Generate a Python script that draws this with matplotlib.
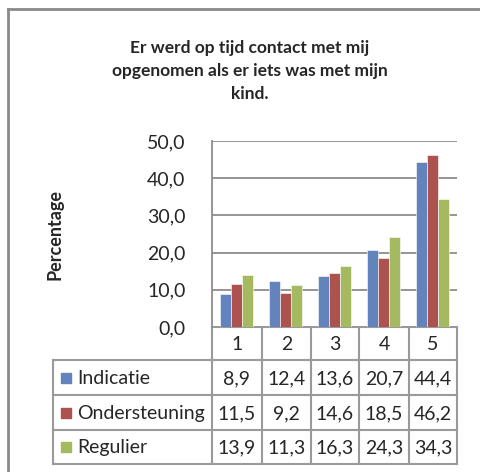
import matplotlib
matplotlib.use("Agg")
import matplotlib.pyplot as plt
import numpy as np

plt.rcParams['font.family'] = ['Lato', 'DejaVu Sans']

title = "Er werd op tijd contact met mij\nopgenomen als er iets was met mijn\nkind."
ylabel = "Percentage"
categories = ["1", "2", "3", "4", "5"]
series_names = ["Indicatie", "Ondersteuning", "Regulier"]
indicatie = [8.9, 12.4, 13.6, 20.7, 44.4]
ondersteuning = [11.5, 9.2, 14.6, 18.5, 46.2]
regulier = [13.9, 11.3, 16.3, 24.3, 34.3]
yticks = [0, 10, 20, 30, 40, 50]
colors = ["#6383BD", "#AC5350", "#A5BA60"]

W, H = 481, 472
fig = plt.figure(figsize=(W / 100, H / 100), dpi=100)

def px_rect(l, t, r, b):
    return [l / W, 1 - b / H, (r - l) / W, (b - t) / H]

# overlay in pixel coords
ov = fig.add_axes([0, 0, 1, 1])
ov.set_autoscale_on(False)
ov.set_xlim(0, W)
ov.set_ylim(H, 0)
ov.axis('off')

grid_c = "#8C8C8C"
txt_c = "#262626"
# outer border
ov.plot([8, 8], [9, H + 5], color="#8A8A8A", lw=2)
ov.plot([8, W + 5], [9, 9], color="#8A8A8A", lw=2)

# title
ov.text(250, 71, title, ha='center', va='center', fontsize=12.5,
        fontweight='bold', color=txt_c, linespacing=1.55)

# plot axes
pl, pt, pr, pb = 212, 141, 457, 327
ax = fig.add_axes(px_rect(pl, pt, pr, pb))
data = [indicatie, ondersteuning, regulier]
x = np.arange(len(categories))
w = 1 / 4.5
for i, (vals, c) in enumerate(zip(data, colors)):
    ax.bar(x + (i - 1) * w, vals, width=w, color=c, edgecolor='white',
           linewidth=0.4, zorder=3)
ax.set_xlim(-0.5, len(categories) - 0.5)
ax.set_ylim(0, 50)
ax.set_yticks(yticks)
ax.set_yticklabels([f"{v:.1f}".replace('.', ',') for v in yticks],
                   fontsize=14, color=txt_c)
ax.tick_params(axis='y', length=0, pad=19)
ax.set_xticks([])
ax.grid(axis='y', color=grid_c, lw=1.3, zorder=0)
for s in ['top', 'right', 'bottom']:
    ax.spines[s].set_visible(False)
ax.spines['left'].set_color(grid_c)
ax.spines['left'].set_linewidth(1.3)
ax.set_ylabel(ylabel, fontsize=13, fontweight='bold', color=txt_c,
              labelpad=0, va='center')
ax.yaxis.set_label_coords((55 - pl) / (pr - pl), 0.5)

# data table
col_edges = [212, 262, 311, 359, 409, 457]
row_edges = [327, 360, 395, 430, 464]
tl = 53
tc = "#9A9A9A"
lw = 1.5
ov.plot([pl, pr], [327, 327], color=tc, lw=lw)
for xe in col_edges:
    ov.plot([xe, xe], [327, row_edges[-1]], color=tc, lw=lw)
for ye in row_edges[1:]:
    ov.plot([tl, pr], [ye, ye], color=tc, lw=lw)
ov.plot([tl, tl], [row_edges[1], row_edges[-1]], color=tc, lw=lw)

for j, cat in enumerate(categories):
    cx = (col_edges[j] + col_edges[j + 1]) / 2
    ov.text(cx, (row_edges[0] + row_edges[1]) / 2 + 1, cat, ha='center',
            va='center', fontsize=14, color=txt_c)
for i, (name, vals, c) in enumerate(zip(series_names, data, colors)):
    cy = (row_edges[i + 1] + row_edges[i + 2]) / 2
    ov.add_patch(plt.Rectangle((61, cy - 5), 10, 10, color=c))
    ov.text(77, cy + 1, name, ha='left', va='center', fontsize=14,
            color=txt_c)
    for j, v in enumerate(vals):
        cx = (col_edges[j] + col_edges[j + 1]) / 2
        ov.text(cx, cy + 1, f"{v:.1f}".replace('.', ','), ha='center',
                va='center', fontsize=14, color=txt_c)

fig.savefig("out.png", dpi=100)
